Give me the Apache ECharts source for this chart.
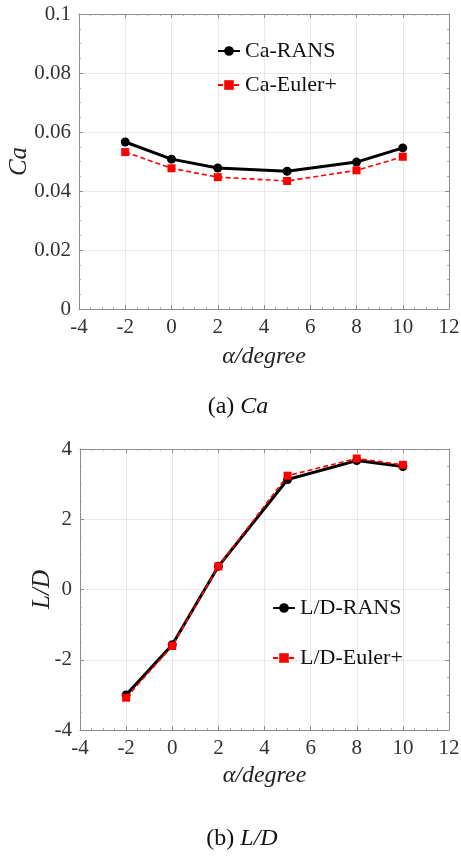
<!DOCTYPE html>
<html>
<head>
<meta charset="utf-8">
<script src="https://cdn.jsdelivr.net/npm/echarts@6/dist/echarts.min.js"></script>
<style>
  html, body { margin: 0; padding: 0; background: #fff; }
  #chart { width: 461px; height: 858px; }
</style>
</head>
<body>
<div id="chart"></div>
<script>
// angle of attack (degree)
var alpha = [-2, 0, 2, 5, 8, 10];

// (a) axial force coefficient
var caRans = [0.0566, 0.0508, 0.0478, 0.0467, 0.0498, 0.0546];
var caEuler = [0.0532, 0.0477, 0.0447, 0.0434, 0.0470, 0.0516];

// (b) lift / drag ratio
var ldRans = [-3.0, -1.57, 0.66, 3.13, 3.67, 3.50];
var ldEuler = [-3.08, -1.61, 0.66, 3.24, 3.73, 3.55];

var FONT = 'Liberation Serif';
var axisColor = '#8c8c8c';

function pairs(xs, ys) {
    return xs.map(function (x, i) { return [x, ys[i]]; });
}

// x axis (bottom) with labels, plus a bare top axis to close the box
function xAxes(gridIndex, nameGap) {
    var common = {
        gridIndex: gridIndex,
        type: 'value',
        min: -4,
        max: 12,
        interval: 2,
        axisLine: { show: true, onZero: false, lineStyle: { color: axisColor, width: 1 } },
        axisTick: { show: true, inside: true, length: 4, lineStyle: { color: axisColor } },
        minorTick: { show: true, splitNumber: 4, length: 2, lineStyle: { color: '#aaa' } },
        splitLine: { show: true, lineStyle: { color: '#e8e8e8' } }
    };
    return [
        Object.assign({}, common, {
            position: 'bottom',
            axisLabel: { color: '#333', fontFamily: FONT, fontSize: 21, margin: 8 },
            name: 'α/degree',
            nameLocation: 'middle',
            nameGap: nameGap,
            nameMoveOverlap: false,
            nameTextStyle: { color: '#222', fontFamily: FONT, fontSize: 24, fontStyle: 'italic' }
        }),
        Object.assign({}, common, {
            position: 'top',
            axisLabel: { show: false },
            splitLine: { show: false }
        })
    ];
}

function yAxes(gridIndex, min, max, interval, name, nameGap) {
    var common = {
        gridIndex: gridIndex,
        type: 'value',
        min: min,
        max: max,
        interval: interval,
        axisLine: { show: true, onZero: false, lineStyle: { color: axisColor, width: 1 } },
        axisTick: { show: true, inside: true, length: 4, lineStyle: { color: axisColor } },
        minorTick: { show: true, splitNumber: 4, length: 2, lineStyle: { color: '#aaa' } },
        splitLine: { show: true, lineStyle: { color: '#e8e8e8' } }
    };
    return [
        Object.assign({}, common, {
            position: 'left',
            axisLabel: { color: '#333', fontFamily: FONT, fontSize: 21, margin: 8 },
            name: name,
            nameLocation: 'middle',
            nameGap: nameGap,
            nameMoveOverlap: false,
            nameTextStyle: { color: '#222', fontFamily: FONT, fontSize: 25, fontStyle: 'italic' }
        }),
        Object.assign({}, common, {
            position: 'right',
            axisLabel: { show: false },
            splitLine: { show: false }
        })
    ];
}

function ransSeries(name, xi, yi, data) {
    return {
        name: name,
        type: 'line',
        xAxisIndex: xi,
        yAxisIndex: yi,
        data: data,
        symbol: 'circle',
        symbolSize: 9,
        color: '#000',
        lineStyle: { color: '#000', width: 3 },
        itemStyle: { color: '#000' },
        z: 3
    };
}

function eulerSeries(name, xi, yi, data) {
    return {
        name: name,
        type: 'line',
        xAxisIndex: xi,
        yAxisIndex: yi,
        data: data,
        symbol: 'rect',
        symbolSize: 8,
        color: '#ff0000',
        lineStyle: { color: '#ff0000', width: 1.6, type: [5, 3] },
        itemStyle: { color: '#ff0000' },
        z: 4
    };
}

var legendText = { color: '#111', fontFamily: FONT, fontSize: 22 };
var captionRich = {
    n: { fontFamily: FONT, fontSize: 24, color: '#111', fontWeight: 'normal' },
    i: { fontFamily: FONT, fontSize: 24, color: '#111', fontWeight: 'normal', fontStyle: 'italic' }
};

var chart = echarts.init(document.getElementById('chart'), null, { renderer: 'canvas' });

var option = {
    backgroundColor: '#fff',
    animation: false,
    grid: [
        { left: 79, top: 14, width: 370, height: 295, outerBoundsMode: 'none', containLabel: false },
        { left: 80, top: 449, width: 369, height: 281, outerBoundsMode: 'none', containLabel: false }
    ],
    title: [
        {
            text: '{n|(a) }{i|Ca}',
            left: 233,
            top: 390,
            textAlign: 'center',
            textStyle: { fontWeight: 'normal', rich: captionRich }
        },
        {
            text: '{n|(b) }{i|L/D}',
            left: 237,
            top: 822,
            textAlign: 'center',
            textStyle: { fontWeight: 'normal', rich: captionRich }
        }
    ],
    legend: [
        {
            data: ['Ca-RANS', 'Ca-Euler+'],
            orient: 'vertical',
            left: 217,
            top: 40,
            padding: 0,
            itemWidth: 22,
            itemHeight: 12,
            itemGap: 12,
            textStyle: legendText,
            selectedMode: false
        },
        {
            data: ['L/D-RANS', 'L/D-Euler+'],
            orient: 'vertical',
            left: 272,
            top: 597,
            padding: 0,
            itemWidth: 22,
            itemHeight: 12,
            itemGap: 28,
            textStyle: legendText,
            selectedMode: false
        }
    ],
    xAxis: xAxes(0, 36).concat(xAxes(1, 34)),
    yAxis: yAxes(0, 0, 0.1, 0.02, 'Ca', 47).concat(yAxes(1, -4, 4, 2, 'L/D', 25)),
    series: [
        ransSeries('Ca-RANS', 0, 0, pairs(alpha, caRans)),
        eulerSeries('Ca-Euler+', 0, 0, pairs(alpha, caEuler)),
        ransSeries('L/D-RANS', 2, 2, pairs(alpha, ldRans)),
        eulerSeries('L/D-Euler+', 2, 2, pairs(alpha, ldEuler))
    ]
};

chart.setOption(option);
window.addEventListener('resize', chart.resize);
</script>
</body>
</html>
